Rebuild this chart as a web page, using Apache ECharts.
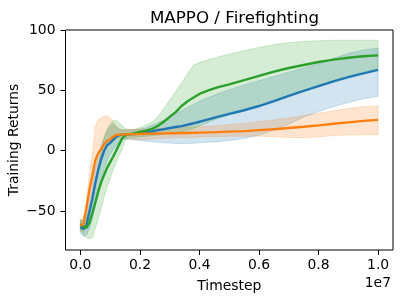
<!DOCTYPE html>
<html>
<head>
<meta charset="utf-8">
<script src="https://cdn.jsdelivr.net/npm/echarts@6/dist/echarts.min.js"></script>
<style>html,body{margin:0;padding:0;background:#fff}#c{width:400px;height:300px}</style>
</head>
<body>
<div id="c"></div>
<script>
// timestep in units of 1e7
const steps = [0,0.01,0.02,0.03,0.04,0.05,0.06,0.07,0.08,0.09,0.10,0.11,0.12,0.13,0.14,0.15,0.16,0.18,0.20,0.22,0.24,0.26,0.28,0.30,0.32,0.34,0.36,0.38,0.40,0.43,0.46,0.50,0.55,0.60,0.65,0.70,0.75,0.80,0.85,0.90,0.95,1.00];

const blueMean  = [-63,-65,-62,-51,-40,-27,-16,-7,0,4.5,6.5,9,11.5,12.8,13.3,13.5,13.6,13.8,14.2,15,16,17,17.8,18.8,19.6,20.4,21.5,22.7,24,26,28,30.5,33.5,37,41,45.5,49.5,53.5,57.5,61,64,67];
const blueHigh  = [-58,-58,-55,-42,-30,-15,-3,5,10,16,20,22,20,18,17,17,17,17.2,17.5,19,21,23,25.5,28,30.5,33,36,38.5,41,44,47,50.5,54.5,58,61.5,65,68.5,72,76.5,80.5,83.5,85];
const blueLow   = [-68,-71,-70,-65,-57,-46,-35,-25,-15,-8,-3,1,4,7,9,9.5,9.5,9,8.5,8,7.5,7,6.5,6.3,6,6,6,6.2,6.5,7,7.5,8.5,10,13,17,22,28,32.5,36.5,40,43,45];

const orangeMean = [-62,-61,-48,-33,-21,-8,-2,1.5,5.5,8,9.5,11.5,13,13.3,13.5,13.5,13.6,13.7,13.8,14,14.1,14.2,14.3,14.4,14.5,14.6,14.7,14.9,15,15.2,15.4,15.8,16.2,17,17.8,18.8,19.8,21,22.3,23.5,24.7,25.5];
const orangeHigh = [-57,-55,-42,-20,-3,20,26,27.5,28.5,29,27,24,20,18,17.5,17.5,17.5,17.8,18,18,18.2,18.4,18.6,18.8,19,19.2,19.4,19.6,19.8,20,20.5,21.7,22.5,24,25.5,27,29,31,33,35,36.5,37];
const orangeLow  = [-66,-68,-62,-52,-42,-30,-18,-8,0,5,7.5,9,10,10.5,10.5,10.5,10,9.5,9.3,9.5,9.8,10,10.2,10.5,10.7,11,11,11.2,11.3,11.5,11.7,12,12,12,11.5,11,10.8,11.5,12.5,13,13.2,13.3];

const greenMean = [-61,-63,-64,-60,-52,-43,-34,-26,-20,-14,-9.5,-5,0,5,10,12.5,13.5,14.3,15.5,16.5,18,20.5,24,28,32,37,41,44,47,50,52.5,55,58.5,62,65.5,68.5,71,73.5,75.5,77,78.3,79];
const greenHigh = [-57,-58,-56,-48,-38,-25,-12,0,12,18,22,25,25.5,23,21,18.5,17.5,17.5,19,21,23.5,28,35,42,49,56,64,71,73,75.5,77.5,80,83,85.5,88,89.5,90.5,91,91.5,91.5,91.5,91.5];
const greenLow  = [-66,-70,-72,-73,-72,-65,-56,-48,-38,-30,-23,-16,-10,-4,1,8.5,10.5,11,11.5,12,12.5,13,13.5,14,14.5,15.5,17,18.5,20.5,23.5,26.5,29.5,33,37,41,46,50,54,58,62,65.5,68.5];

const xTicks = [0,0.2,0.4,0.6,0.8,1.0];
const yTicks = [-50,0,50,100];
const SCALE = 1e7;

const C_BLUE = '#1f77b4', C_ORANGE = '#ff7f0e', C_GREEN = '#2ca02c';
const FONT = 'DejaVu Sans';

function band(name, lo, hi, color) {
  return {
    type: 'custom', name: name, z: 1, silent: true,
    clip: true,
    data: steps.map((s, i) => [s * SCALE, lo[i], hi[i]]),
    encode: { x: 0, y: [1, 2] },
    renderItem: function (params, api) {
      if (params.dataIndex !== 0) return null;
      const pts = [];
      for (let i = 0; i < steps.length; i++) pts.push(api.coord([steps[i] * SCALE, hi[i]]));
      for (let i = steps.length - 1; i >= 0; i--) pts.push(api.coord([steps[i] * SCALE, lo[i]]));
      return {
        type: 'polygon',
        shape: { points: pts },
        style: { fill: color, opacity: 0.2, stroke: color, lineWidth: 1 }
      };
    }
  };
}
function line(name, vals, color, z) {
  return {
    type: 'line', name: name, z: z, silent: true,
    data: steps.map((s, i) => [s * SCALE, vals[i]]),
    showSymbol: false, symbol: 'none',
    lineStyle: { color: color, width: 2.4 },
    itemStyle: { color: color }
  };
}

const chart = echarts.init(document.getElementById('c'), null, { renderer: 'canvas' });
chart.setOption({
  animation: false,
  backgroundColor: '#fff',
  title: {
    text: 'MAPPO / Firefighting', left: 229.5, top: 5, textAlign: 'center',
    textStyle: { fontFamily: FONT, fontSize: 16.7, fontWeight: 'normal', color: '#000' }
  },
  grid: { left: 65.5, right: 7, top: 30, bottom: 50, show: true, borderColor: '#000', borderWidth: 1,
    backgroundColor: 'transparent', containLabel: false, outerBoundsMode: 'none' },
  xAxis: {
    type: 'value', min: -0.05 * SCALE, max: 1.05 * SCALE,
    name: 'Timestep', nameLocation: 'middle', nameGap: 29,
    nameTextStyle: { fontFamily: FONT, fontSize: 13.9, color: '#000' },
    axisLine: { show: false, onZero: false },
    splitLine: { show: false },
    axisTick: { show: true, inside: false, length: 5, lineStyle: { color: '#000', width: 1 }, customValues: xTicks.map(v => v * SCALE) },
    axisLabel: { fontFamily: FONT, fontSize: 13.9, color: '#000', margin: 8, customValues: xTicks.map(v => v * SCALE),
      formatter: v => (v / SCALE).toFixed(1) }
  },
  yAxis: {
    type: 'value', min: -82.3, max: 100,
    name: 'Training Returns', nameLocation: 'middle', nameGap: 44, nameRotate: 90, nameMoveOverlap: false,
    nameTextStyle: { fontFamily: FONT, fontSize: 13.9, color: '#000' },
    axisLine: { show: false, onZero: false },
    splitLine: { show: false },
    axisTick: { show: true, inside: false, length: 5, lineStyle: { color: '#000', width: 1 }, customValues: yTicks },
    axisLabel: { fontFamily: FONT, fontSize: 13.9, color: '#000', margin: 10, customValues: yTicks,
      formatter: v => (v < 0 ? '\u2212' + Math.abs(v) : String(v)) }
  },
  graphic: [{
    type: 'text', right: 9, top: 276,
    style: { text: '1e7', fontFamily: FONT, fontSize: 13.9, fill: '#000' }
  }],
  series: [
    band('blueBand', blueLow, blueHigh, C_BLUE),
    band('orangeBand', orangeLow, orangeHigh, C_ORANGE),
    band('greenBand', greenLow, greenHigh, C_GREEN),
    line('blue', blueMean, C_BLUE, 3),
    line('green', greenMean, C_GREEN, 4),
    line('orange', orangeMean, C_ORANGE, 5)
  ]
});
</script>
</body>
</html>
